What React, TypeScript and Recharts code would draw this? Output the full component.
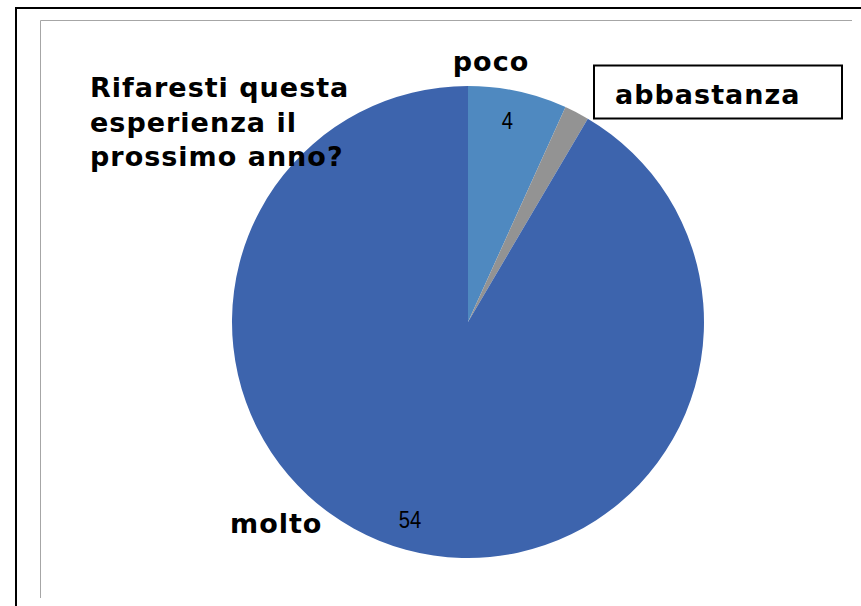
import { PieChart, Pie, Cell } from "recharts"

const categories = ["poco", "abbastanza", "molto"]
const values = [4, 1, 54]
const colors = ["#4F89C0", "#939393", "#3D64AD"]
const showValue = [true, false, true]
const titleLines = ["Rifaresti questa", "esperienza il", "prossimo anno?"]

const data = categories.map((name, i) => ({ name, value: values[i] }))

const RAD = Math.PI / 180

const renderValue = (props: any) => {
    const { cx, cy, midAngle, outerRadius, value, index } = props
    if (!showValue[index]) return null
    const r = outerRadius * 0.87
    const x = cx + r * Math.cos(-midAngle * RAD)
    const y = cy + r * Math.sin(-midAngle * RAD)
    // narrow-ish digits like the original's Calibri
    return (
        <text
            transform={`translate(${x - 4},${y}) scale(0.88,1)`}
            textAnchor="middle"
            dominantBaseline="central"
            fontFamily="Liberation Sans, Arial, sans-serif"
            fontSize={23}
            fill="#000"
        >
            {value}
        </text>
    )
}

const bold = {
    fontFamily: "DejaVu Sans, Verdana, sans-serif",
    fontWeight: 700,
    fontSize: 27,
    letterSpacing: 1,
    fill: "#000",
}

export default function App() {
    return (
        <div style={{ position: "absolute", left: 0, top: 0, width: 861, height: 606, background: "#fff" }}>
            <PieChart width={861} height={606} margin={{ top: 0, right: 0, bottom: 0, left: 0 }}>
                <Pie
                    data={data}
                    dataKey="value"
                    nameKey="name"
                    cx={468}
                    cy={322}
                    outerRadius={236}
                    startAngle={90}
                    endAngle={-270}
                    stroke="none"
                    label={renderValue}
                    labelLine={false}
                    isAnimationActive={false}
                >
                    {data.map((d, i) => (
                        <Cell key={d.name} fill={colors[i]} />
                    ))}
                </Pie>
            </PieChart>
            <svg
                width={861}
                height={606}
                style={{ position: "absolute", left: 0, top: 0, pointerEvents: "none" }}
            >
                <path d="M16 606 V8 H861" fill="none" stroke="#000" strokeWidth={2} />
                <path d="M40.5 598 V20.5 H852" fill="none" stroke="#A6A6A6" strokeWidth={1} />
                {titleLines.map((t, i) => (
                    <text key={t} x={90} y={97 + i * 34.5} {...bold}>
                        {t}
                    </text>
                ))}
                <text x={491} y={71} textAnchor="middle" {...bold}>
                    {categories[0]}
                </text>
                <rect x={594} y={65.5} width={248} height={53} fill="#fff" stroke="#000" strokeWidth={2} />
                <text x={615} y={104} {...bold}>
                    {categories[1]}
                </text>
                <text x={230} y={533} {...bold}>
                    {categories[2]}
                </text>
            </svg>
        </div>
    )
}
